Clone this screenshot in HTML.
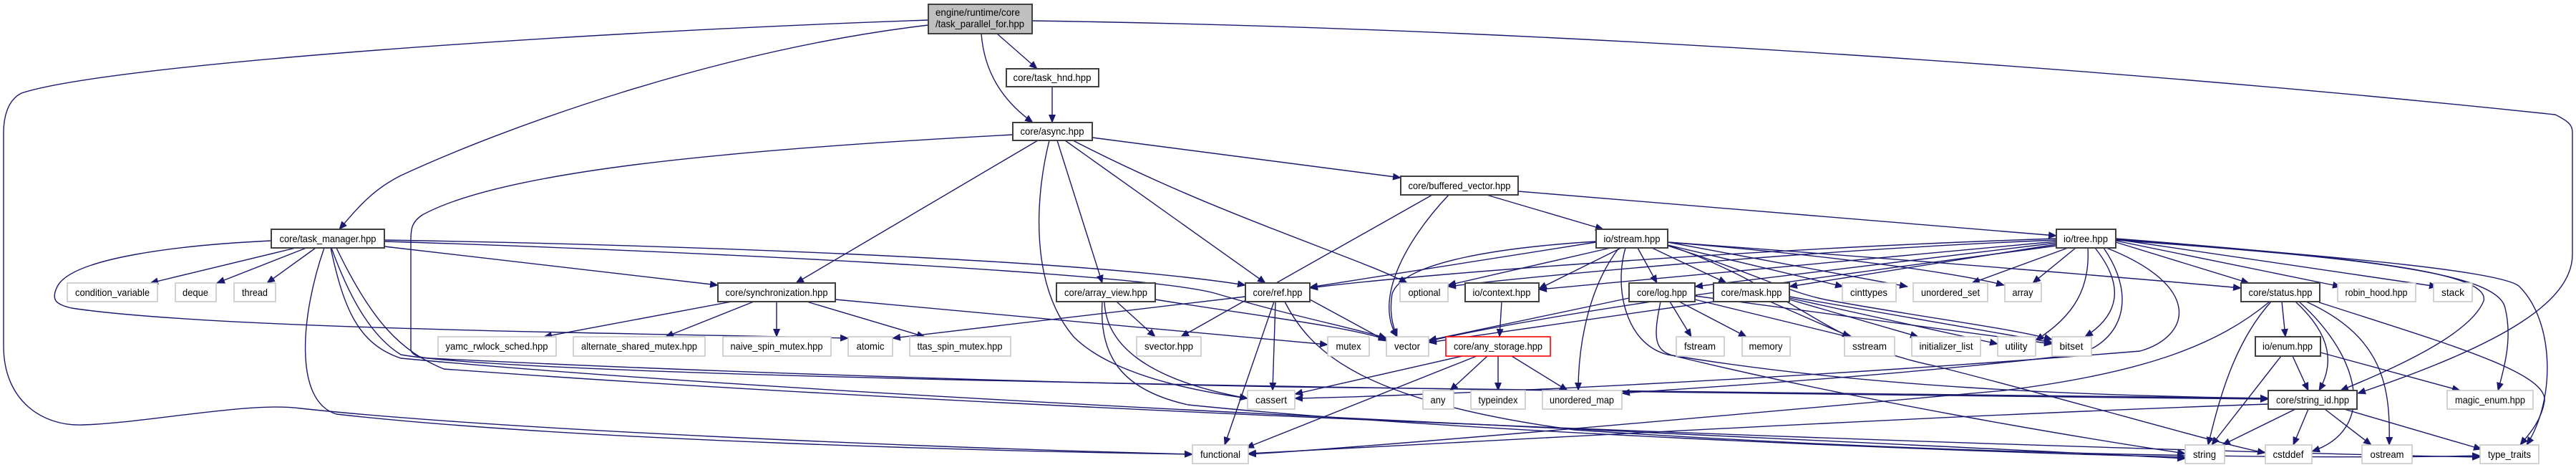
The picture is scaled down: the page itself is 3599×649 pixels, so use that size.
<!DOCTYPE html>
<html><head><meta charset="utf-8"><style>
html,body{margin:0;padding:0;background:#fff;}
svg{display:block;}
text{font-family:"Liberation Sans",sans-serif;font-size:14px;fill:#000;}
.e{fill:none;stroke:#191970;stroke-width:1.4;marker-end:url(#a);}
.d{fill:#fff;stroke:#404040;stroke-width:2;}
.x{fill:#fff;stroke:#c8c8c8;stroke-width:1.6;}
</style></head><body>
<svg width="3599" height="649" viewBox="0 0 3599 649" xmlns="http://www.w3.org/2000/svg">
<defs><marker id="a" markerWidth="12" markerHeight="10" refX="11" refY="5" orient="auto" markerUnits="userSpaceOnUse"><path d="M0,0 L12,5 L0,10 z" fill="#191970"/></marker></defs>
<g>
<path class="e" d="M1393,47 L1449,96"/>
<path class="e" d="M1371,47 C1375,100 1400,140 1443,171"/>
<path class="e" d="M1297,35 C1000,70 700,180 560,245 C520,265 500,290 474,320"/>
<path class="e" d="M1297,28 C800,45 150,90 30,130 C10,140 5,165 5,185 L5,483 C5,560 60,595 115,593 C200,591 350,560 420,570 C700,600 1300,625 1666,634"/>
<path class="e" d="M1442,29 C2200,40 3000,100 3570,160 C3590,170 3594,175 3594,185 L3594,355 C3594,420 3500,480 3294,549"/>
<path class="e" d="M1470,121 L1470,171"/>
<path class="e" d="M1450,196 L1112,395"/>
<path class="e" d="M1477,196 L1540,395"/>
<path class="e" d="M1488,196 L1768,395"/>
<path class="e" d="M1526,192 L1957,248"/>
<path class="e" d="M1499,196 C1700,300 1900,360 1966,395"/>
<path class="e" d="M1466,196 C1445,280 1440,400 1500,470 C1560,530 1700,550 1743,556"/>
<path class="e" d="M1415,188 C1000,210 700,240 590,300 C575,310 574,320 574,335 L574,487 C574,495 585,499 600,500 C1000,520 1500,535 1800,540 C2400,548 2900,552 3169,556"/>
<path class="e" d="M413,346 L210,395"/>
<path class="e" d="M428,346 L303,395"/>
<path class="e" d="M441,346 L373,395"/>
<path class="e" d="M379,336 C250,342 100,360 80,400 C70,420 80,425 100,430 C300,460 900,465 1185,472"/>
<path class="e" d="M537,344 L1003,398"/>
<path class="e" d="M537,335 C900,341 1500,360 1740,398"/>
<path class="e" d="M537,337 C900,348 1600,380 1700,410 C1800,440 1900,460 1937,472"/>
<path class="e" d="M463,346 C490,420 520,470 560,495 C700,520 1500,540 3169,557"/>
<path class="e" d="M462,346 C480,430 500,480 560,500 C1200,560 2500,610 3053,640"/>
<path class="e" d="M453,346 C420,440 410,560 470,578 C800,615 1400,630 1666,634"/>
<path class="e" d="M470,346 C520,450 560,490 620,515 C1500,580 3000,630 3465,638"/>
<path class="e" d="M1022,421 L760,470"/>
<path class="e" d="M1053,421 L930,470"/>
<path class="e" d="M1085,421 L1085,470"/>
<path class="e" d="M1127,421 L1292,470"/>
<path class="e" d="M1167,418 L1855,481"/>
<path class="e" d="M1560,421 L1614,470"/>
<path class="e" d="M1543,421 C1545,480 1600,530 1743,556"/>
<path class="e" d="M1540,421 C1535,500 1570,545 1660,565 C2000,600 2700,630 3053,638"/>
<path class="e" d="M1614,418 C1750,440 1880,455 1937,474"/>
<path class="e" d="M1740,414 L1247,472"/>
<path class="e" d="M1780,421 L1711,621"/>
<path class="e" d="M1782,421 L1778,545"/>
<path class="e" d="M1795,421 C1830,490 1900,560 2200,600 C2800,640 3300,640 3465,636"/>
<path class="e" d="M1830,418 L1937,476"/>
<path class="e" d="M2001,272 L1650,470"/>
<path class="e" d="M2024,272 C1960,340 1920,420 1952,470"/>
<path class="e" d="M2077,272 L2240,320"/>
<path class="e" d="M2121,267 L2873,329"/>
<path class="e" d="M2230,338 L1830,401"/>
<path class="e" d="M2250,346 L2023,398"/>
<path class="e" d="M2230,337 C2100,345 1960,365 1945,410 C1940,440 1948,460 1952,470"/>
<path class="e" d="M2265,346 L2150,403"/>
<path class="e" d="M2288,346 L2315,395"/>
<path class="e" d="M2308,346 L2412,395"/>
<path class="e" d="M2262,346 C2220,400 2205,480 2205,545"/>
<path class="e" d="M2330,342 L2575,400"/>
<path class="e" d="M2330,338 L2665,400"/>
<path class="e" d="M2330,338 C2600,360 2750,385 2800,398"/>
<path class="e" d="M2330,338 C2700,365 3000,390 3131,402"/>
<path class="e" d="M2271,346 C2255,400 2270,480 2330,495 C2600,540 2900,552 3169,556"/>
<path class="e" d="M2330,343 C2450,380 2500,410 2560,420 C2700,445 2820,460 2867,474"/>
<path class="e" d="M2330,342 C2500,400 2550,480 2700,510 C2900,560 3100,620 3165,632"/>
<path class="e" d="M2873,333 C2500,345 2000,380 1830,402"/>
<path class="e" d="M2873,335 C2500,350 2100,390 2023,400"/>
<path class="e" d="M2873,337 L2150,404"/>
<path class="e" d="M2873,339 L2368,400"/>
<path class="e" d="M2873,341 L2500,400"/>
<path class="e" d="M2889,346 L2755,395"/>
<path class="e" d="M2900,346 L2840,395"/>
<path class="e" d="M2873,343 C2600,380 2200,430 1996,476"/>
<path class="e" d="M2917,346 C2920,400 2900,440 2844,475"/>
<path class="e" d="M2927,346 C2970,400 2960,440 2913,470"/>
<path class="e" d="M2956,338 L3142,395"/>
<path class="e" d="M2956,336 L3270,400"/>
<path class="e" d="M2956,334 L3405,400"/>
<path class="e" d="M2956,333 C3300,360 3480,380 3470,420 C3450,470 3330,520 3270,545"/>
<path class="e" d="M2956,335 C3300,360 3490,380 3500,430 C3510,470 3500,510 3490,545"/>
<path class="e" d="M2956,334 C3300,360 3500,380 3520,400 C3570,450 3570,560 3530,621"/>
<path class="e" d="M2939,346 C2990,420 2960,480 2900,495 C2600,530 2300,545 2266,549"/>
<path class="e" d="M2943,346 C3080,400 3060,470 2990,490 C2500,530 2000,552 1809,556"/>
<path class="e" d="M3171,421 C3100,480 3000,520 2800,545 C2300,590 1900,625 1744,634"/>
<path class="e" d="M3188,421 L3193,470"/>
<path class="e" d="M3207,421 C3260,470 3260,510 3240,545"/>
<path class="e" d="M3173,421 C3120,480 3100,560 3085,621"/>
<path class="e" d="M3212,421 C3300,500 3320,600 3230,630"/>
<path class="e" d="M3222,421 C3330,470 3340,540 3338,621"/>
<path class="e" d="M3240,422 C3420,480 3560,520 3555,560 C3550,590 3530,610 3521,621"/>
<path class="e" d="M3203,497 L3225,545"/>
<path class="e" d="M3187,497 L3090,621"/>
<path class="e" d="M3242,492 L3437,545"/>
<path class="e" d="M3207,571 L3105,621"/>
<path class="e" d="M3225,571 L3204,621"/>
<path class="e" d="M3248,571 L3313,621"/>
<path class="e" d="M3275,571 L3467,627"/>
<path class="e" d="M3169,564 C2700,580 2000,620 1744,633"/>
<path class="e" d="M2043,497 L1809,550"/>
<path class="e" d="M2063,497 L1741,625"/>
<path class="e" d="M2078,497 L2026,545"/>
<path class="e" d="M2093,497 L2093,545"/>
<path class="e" d="M2112,497 L2190,545"/>
<path class="e" d="M2098,421 L2095,470"/>
<path class="e" d="M2276,416 L1996,475"/>
<path class="e" d="M2333,421 L2363,470"/>
<path class="e" d="M2346,421 L2440,470"/>
<path class="e" d="M2368,418 L2590,472"/>
<path class="e" d="M2320,421 C2310,470 2310,490 2340,497 C2600,560 2900,610 3053,633"/>
<path class="e" d="M2368,413 L2867,480"/>
<path class="e" d="M2394,421 L1996,478"/>
<path class="e" d="M2473,421 L2585,470"/>
<path class="e" d="M2500,418 L2680,470"/>
<path class="e" d="M2500,416 L2791,480"/>
<path class="e" d="M2500,414 L2867,478"/>
</g>
<g>
<rect x="1297" y="6" width="145" height="41" fill="#bfbfbf" stroke="#404040" stroke-width="2"/>
<text x="1307" y="22" textLength="118" lengthAdjust="spacingAndGlyphs">engine/runtime/core</text>
<text x="1307" y="38" textLength="124" lengthAdjust="spacingAndGlyphs">/task_parallel_for.hpp</text>

<rect class="d" x="1406" y="96" width="129" height="25"/><text x="1470" y="113" text-anchor="middle" textLength="109" lengthAdjust="spacingAndGlyphs">core/task_hnd.hpp</text>
<rect class="d" x="1415" y="171" width="111" height="25"/><text x="1470" y="188" text-anchor="middle" textLength="89" lengthAdjust="spacingAndGlyphs">core/async.hpp</text>
<rect class="d" x="1957" y="246" width="164" height="26"/><text x="2039" y="264" text-anchor="middle" textLength="143" lengthAdjust="spacingAndGlyphs">core/buffered_vector.hpp</text>
<rect class="d" x="379" y="320" width="158" height="26"/><text x="458" y="338" text-anchor="middle" textLength="135" lengthAdjust="spacingAndGlyphs">core/task_manager.hpp</text>
<rect class="d" x="2230" y="320" width="100" height="26"/><text x="2280" y="338" text-anchor="middle" textLength="79" lengthAdjust="spacingAndGlyphs">io/stream.hpp</text>
<rect class="d" x="2873" y="320" width="83" height="26"/><text x="2914" y="338" text-anchor="middle" textLength="62" lengthAdjust="spacingAndGlyphs">io/tree.hpp</text>

<rect class="x" x="94" y="395" width="126" height="26"/><text x="157" y="413" text-anchor="middle" textLength="104" lengthAdjust="spacingAndGlyphs">condition_variable</text>
<rect class="x" x="245" y="395" width="57" height="26"/><text x="273" y="413" text-anchor="middle" textLength="36" lengthAdjust="spacingAndGlyphs">deque</text>
<rect class="x" x="327" y="395" width="58" height="26"/><text x="356" y="413" text-anchor="middle" textLength="36" lengthAdjust="spacingAndGlyphs">thread</text>
<rect class="d" x="1003" y="395" width="164" height="26"/><text x="1085" y="413" text-anchor="middle" textLength="143" lengthAdjust="spacingAndGlyphs">core/synchronization.hpp</text>
<rect class="d" x="1476" y="395" width="138" height="26"/><text x="1545" y="413" text-anchor="middle" textLength="116" lengthAdjust="spacingAndGlyphs">core/array_view.hpp</text>
<rect class="d" x="1740" y="395" width="90" height="26"/><text x="1785" y="413" text-anchor="middle" textLength="69" lengthAdjust="spacingAndGlyphs">core/ref.hpp</text>
<rect class="x" x="1956" y="395" width="67" height="26"/><text x="1990" y="413" text-anchor="middle" textLength="45" lengthAdjust="spacingAndGlyphs">optional</text>
<rect class="d" x="2047" y="395" width="103" height="26"/><text x="2098" y="413" text-anchor="middle" textLength="81" lengthAdjust="spacingAndGlyphs">io/context.hpp</text>
<rect class="d" x="2276" y="395" width="92" height="26"/><text x="2322" y="413" text-anchor="middle" textLength="70" lengthAdjust="spacingAndGlyphs">core/log.hpp</text>
<rect class="d" x="2394" y="395" width="106" height="26"/><text x="2447" y="413" text-anchor="middle" textLength="85" lengthAdjust="spacingAndGlyphs">core/mask.hpp</text>
<rect class="x" x="2574" y="395" width="75" height="26"/><text x="2611" y="413" text-anchor="middle" textLength="52" lengthAdjust="spacingAndGlyphs">cinttypes</text>
<rect class="x" x="2673" y="395" width="104" height="26"/><text x="2725" y="413" text-anchor="middle" textLength="82" lengthAdjust="spacingAndGlyphs">unordered_set</text>
<rect class="x" x="2801" y="395" width="51" height="26"/><text x="2826" y="413" text-anchor="middle" textLength="29" lengthAdjust="spacingAndGlyphs">array</text>
<rect class="d" x="3131" y="395" width="110" height="26"/><text x="3186" y="413" text-anchor="middle" textLength="89" lengthAdjust="spacingAndGlyphs">core/status.hpp</text>
<rect class="x" x="3266" y="395" width="109" height="26"/><text x="3320" y="413" text-anchor="middle" textLength="87" lengthAdjust="spacingAndGlyphs">robin_hood.hpp</text>
<rect class="x" x="3400" y="395" width="54" height="26"/><text x="3427" y="413" text-anchor="middle" textLength="32" lengthAdjust="spacingAndGlyphs">stack</text>

<rect class="x" x="612" y="470" width="165" height="27"/><text x="694" y="488" text-anchor="middle" textLength="143" lengthAdjust="spacingAndGlyphs">yamc_rwlock_sched.hpp</text>
<rect class="x" x="801" y="470" width="184" height="27"/><text x="893" y="488" text-anchor="middle" textLength="162" lengthAdjust="spacingAndGlyphs">alternate_shared_mutex.hpp</text>
<rect class="x" x="1010" y="470" width="151" height="27"/><text x="1085" y="488" text-anchor="middle" textLength="129" lengthAdjust="spacingAndGlyphs">naive_spin_mutex.hpp</text>
<rect class="x" x="1185" y="470" width="62" height="27"/><text x="1216" y="488" text-anchor="middle" textLength="39" lengthAdjust="spacingAndGlyphs">atomic</text>
<rect class="x" x="1271" y="470" width="141" height="27"/><text x="1341" y="488" text-anchor="middle" textLength="119" lengthAdjust="spacingAndGlyphs">ttas_spin_mutex.hpp</text>
<rect class="x" x="1588" y="470" width="90" height="27"/><text x="1633" y="488" text-anchor="middle" textLength="68" lengthAdjust="spacingAndGlyphs">svector.hpp</text>
<rect class="x" x="1855" y="470" width="58" height="27"/><text x="1884" y="488" text-anchor="middle" textLength="35" lengthAdjust="spacingAndGlyphs">mutex</text>
<rect class="x" x="1937" y="470" width="59" height="27"/><text x="1966" y="488" text-anchor="middle" textLength="36" lengthAdjust="spacingAndGlyphs">vector</text>
<rect x="2020" y="470" width="146" height="27" fill="#fff" stroke="#ff0000" stroke-width="1.6"/><text x="2093" y="488" text-anchor="middle" textLength="124" lengthAdjust="spacingAndGlyphs">core/any_storage.hpp</text>
<rect class="x" x="2342" y="470" width="67" height="27"/><text x="2375" y="488" text-anchor="middle" textLength="44" lengthAdjust="spacingAndGlyphs">fstream</text>
<rect class="x" x="2434" y="470" width="67" height="27"/><text x="2467" y="488" text-anchor="middle" textLength="47" lengthAdjust="spacingAndGlyphs">memory</text>
<rect class="x" x="2577" y="470" width="70" height="27"/><text x="2612" y="488" text-anchor="middle" textLength="48" lengthAdjust="spacingAndGlyphs">sstream</text>
<rect class="x" x="2671" y="470" width="96" height="27"/><text x="2719" y="488" text-anchor="middle" textLength="75" lengthAdjust="spacingAndGlyphs">initializer_list</text>
<rect class="x" x="2791" y="470" width="53" height="27"/><text x="2817" y="488" text-anchor="middle" textLength="31" lengthAdjust="spacingAndGlyphs">utility</text>
<rect class="x" x="2867" y="470" width="55" height="27"/><text x="2894" y="488" text-anchor="middle" textLength="33" lengthAdjust="spacingAndGlyphs">bitset</text>
<rect class="d" x="3151" y="470" width="91" height="27"/><text x="3196" y="488" text-anchor="middle" textLength="70" lengthAdjust="spacingAndGlyphs">io/enum.hpp</text>

<rect class="x" x="1743" y="545" width="66" height="26"/><text x="1776" y="563" text-anchor="middle" textLength="44" lengthAdjust="spacingAndGlyphs">cassert</text>
<rect class="x" x="1988" y="545" width="43" height="26"/><text x="2009" y="563" text-anchor="middle" textLength="21" lengthAdjust="spacingAndGlyphs">any</text>
<rect class="x" x="2055" y="545" width="76" height="26"/><text x="2093" y="563" text-anchor="middle" textLength="55" lengthAdjust="spacingAndGlyphs">typeindex</text>
<rect class="x" x="2155" y="545" width="111" height="26"/><text x="2210" y="563" text-anchor="middle" textLength="90" lengthAdjust="spacingAndGlyphs">unordered_map</text>
<rect class="d" x="3169" y="545" width="124" height="26"/><text x="3231" y="563" text-anchor="middle" textLength="102" lengthAdjust="spacingAndGlyphs">core/string_id.hpp</text>
<rect class="x" x="3419" y="545" width="120" height="26"/><text x="3479" y="563" text-anchor="middle" textLength="98" lengthAdjust="spacingAndGlyphs">magic_enum.hpp</text>

<rect class="x" x="1666" y="621" width="78" height="26"/><text x="1705" y="639" text-anchor="middle" textLength="56" lengthAdjust="spacingAndGlyphs">functional</text>
<rect class="x" x="3053" y="621" width="55" height="26"/><text x="3080" y="639" text-anchor="middle" textLength="32" lengthAdjust="spacingAndGlyphs">string</text>
<rect class="x" x="3165" y="621" width="65" height="26"/><text x="3197" y="639" text-anchor="middle" textLength="43" lengthAdjust="spacingAndGlyphs">cstddef</text>
<rect class="x" x="3300" y="621" width="70" height="26"/><text x="3335" y="639" text-anchor="middle" textLength="47" lengthAdjust="spacingAndGlyphs">ostream</text>
<rect class="x" x="3465" y="621" width="82" height="26"/><text x="3506" y="639" text-anchor="middle" textLength="60" lengthAdjust="spacingAndGlyphs">type_traits</text>
</g>
</svg>
</body></html>
